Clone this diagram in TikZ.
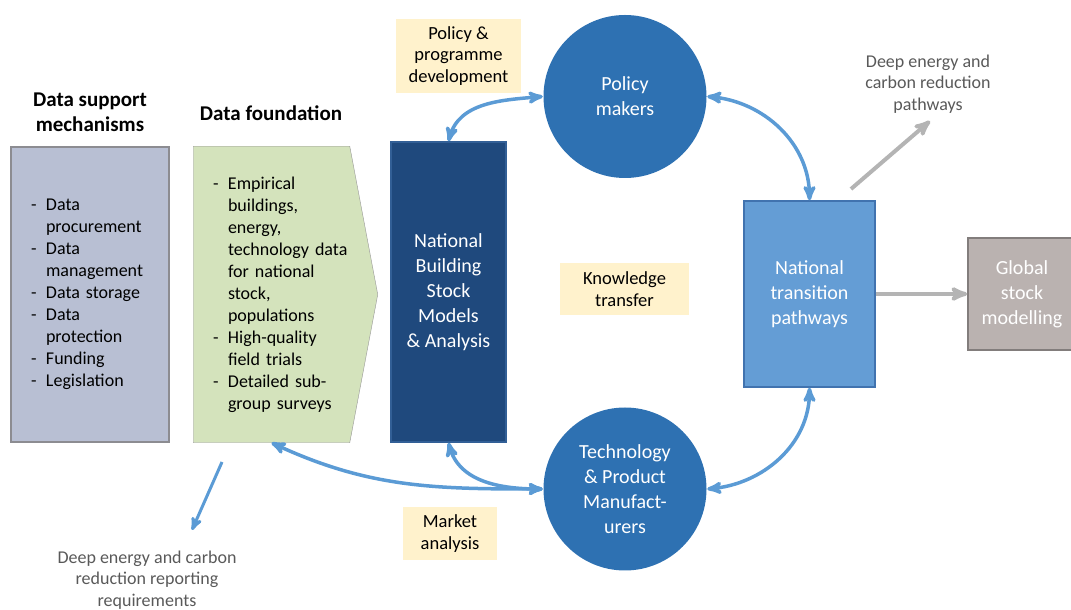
\documentclass[tikz,border=0pt]{standalone}
\usepackage{fontspec}
\setmainfont{Carlito}
\usetikzlibrary{arrows,shapes,backgrounds}

\definecolor{supportgray}{RGB}{184,191,211}
\definecolor{supportedge}{RGB}{140,140,145}
\definecolor{foundgreen}{RGB}{212,227,188}
\definecolor{foundedge}{RGB}{150,150,150}
\definecolor{modelblue}{RGB}{31,73,125}
\definecolor{modeledge}{RGB}{50,95,150}
\definecolor{actorblue}{RGB}{46,113,178}
\definecolor{pathblue}{RGB}{100,157,213}
\definecolor{pathedge}{RGB}{65,115,175}
\definecolor{globalgray}{RGB}{186,178,176}
\definecolor{globaledge}{RGB}{130,125,124}
\definecolor{taskyellow}{RGB}{255,242,204}
\definecolor{linkblue}{RGB}{91,155,213}
\definecolor{feedgray}{RGB}{180,180,180}
\definecolor{labelgray}{RGB}{89,89,89}

\newcommand{\li}[1]{\mbox{\makebox[15pt][l]{-}#1}}
\newcommand{\lc}[1]{\mbox{\hspace{15pt}#1}}

\begin{document}
\begin{tikzpicture}[x=1pt,y=1pt,>=stealth',line width=1.5pt]
        \tikzstyle{every node}=[font=\fontsize{18}{22}\selectfont]
        \tikzstyle{title}=[font=\bfseries\fontsize{21}{25}\selectfont, align=center]
        \tikzstyle{list}=[minimum height=295pt, align=left, inner sep=0pt]
        \tikzstyle{onblue}=[text=white, font=\fontsize{20}{25}\selectfont, align=center]
        \tikzstyle{actor}=[circle, fill=actorblue, minimum size=163pt, onblue]
        \tikzstyle{task}=[fill=taskyellow, align=center, font=\fontsize{18.5}{21.5}\selectfont]
        \tikzstyle{output}=[text=labelgray, align=center, font=\fontsize{18}{21.5}\selectfont]
        \tikzstyle{link}=[<->, draw=linkblue, line width=3.5pt]
        \tikzstyle{feed}=[->, draw=feedgray, line width=4pt]

        \useasboundingbox (0,0) rectangle (1071,610);

        % data columns
        \node[title] (ST) at (90,498) {Data support\\mechanisms};
        \node[list, draw=supportedge, fill=supportgray, minimum width=158pt, text width=118pt] (S) at (90,315.5)
          {\li{Data}\\\lc{procurement}\\\li{Data}\\\lc{management}\\\li{Data storage}\\\li{Data}\\\lc{protection}\\\li{Funding}\\\li{Legislation}};
        \node[title] (FT) at (271,497) {Data foundation};
        \node[list, minimum width=155pt, text width=117pt] (F) at (271.5,315.5)
          {\li{Empirical}\\\lc{buildings,}\\\lc{energy,}\\\lc{technology data}\\\lc{for national}\\\lc{stock,}\\\lc{populations}\\\li{High-quality}\\\lc{field trials}\\\li{Detailed sub-}\\\lc{group surveys}};
        \begin{scope}[on background layer]
          \draw[foundedge, fill=foundgreen] (F.north west) -- (F.north east) -- ([xshift=28pt]F.east)
            -- (F.south east) -- (F.south west) -- cycle;
        \end{scope}

        % models and actors
        \node[draw=modeledge, fill=modelblue, minimum width=115pt, minimum height=300pt, onblue] (M) at (448.5,318)
          {National\\Building\\Stock\\Models\\\& Analysis};
        \node[actor] (P) at (625,513.5) {Policy\\makers};
        \node[actor] (T) at (625,121) {Technology\\\& Product\\Manufact-\\urers};
        \node[draw=pathedge, fill=pathblue, minimum width=131pt, minimum height=186pt, onblue] (N) at (809.5,316)
          {National\\transition\\pathways};
        \node[draw=globaledge, fill=globalgray, minimum width=108pt, minimum height=112pt, onblue] (G) at (1022,316)
          {Global\\stock\\modelling};

        % activities
        \node[task, minimum width=125pt, minimum height=74pt] (PD) at (458.5,554) {Policy \&\\programme\\development};
        \node[task, minimum width=129pt, minimum height=52pt] (KT) at (624.5,321) {Knowledge\\transfer};
        \node[task, minimum width=94pt, minimum height=53pt] (MA) at (450,76.5) {Market\\analysis};

        % outputs
        \node[output] (DP) at (928,526) {Deep energy and\\carbon reduction\\pathways};
        \node[output] (DR) at (147,30) {Deep energy and carbon\\reduction reporting\\requirements};
        \coordinate (D1) at (851,421);
        \coordinate (D2) at (930,489);
        \coordinate (R1) at (222,148);
        \coordinate (R2) at (192,80);

        \path (M.north) edge[link, out=75, in=185] (P.west)
              (P.east) edge[link, out=-5, in=90] (N.north)
              (T.east) edge[link, out=5, in=-90] (N.south)
              (M.south) edge[link, out=-75, in=180] (T.west)
              (F.south) edge[link, out=-25, in=180] (T.west);
        \path (D1) edge[feed] (D2)
              (N.east) edge[feed] (G.west)
              (R1) edge[->, draw=linkblue, line width=3pt] (R2);
      \end{tikzpicture}
\end{document}
